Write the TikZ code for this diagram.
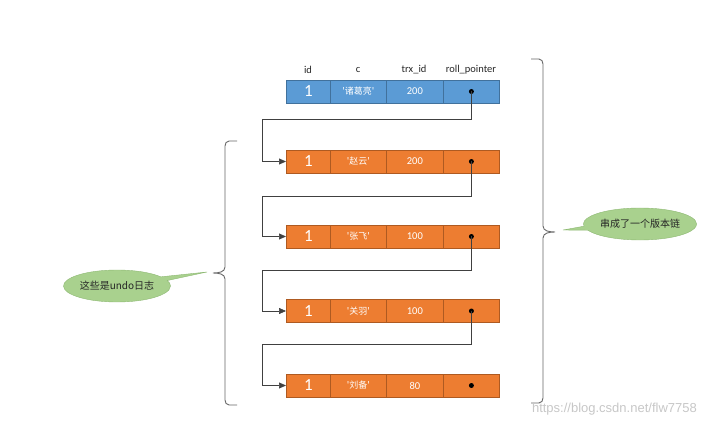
\documentclass[tikz,border=0pt]{standalone}
\usepackage{fontspec}
\setmainfont{Carlito}
\newfontfamily\cjk{Noto Sans CJK SC}
\newfontfamily\wmfont{Liberation Sans}
\usetikzlibrary{arrows.meta,shapes.callouts}
\definecolor{bluefill}{HTML}{5B9BD5}
\definecolor{blueline}{HTML}{41719C}
\definecolor{orfill}{HTML}{ED7D31}
\definecolor{orline}{HTML}{AE5A21}
\definecolor{bubfill}{HTML}{A9D18E}
\definecolor{bubline}{HTML}{8DB873}
\definecolor{conn}{HTML}{404040}
\definecolor{brc}{HTML}{666666}
\tikzset{
  cell/.style={draw=#1line, fill=#1fill, line width=0.8pt, minimum height=23pt, inner sep=0pt, text=white, anchor=west},
  ida/.style={minimum width=44pt, font=\fontsize{17}{17}\selectfont},
  cb/.style={minimum width=56pt, font=\cjk\fontsize{9}{10}\selectfont},
  cc/.style={minimum width=57pt, font=\fontsize{10.5}{11}\selectfont},
  cd/.style={minimum width=56pt},
  hdr/.style={font=\fontsize{10.5}{11}\selectfont, text=black!85},
  link/.style={draw=conn, line width=0.7pt, -{Triangle[length=7pt,width=6pt]}},
  dotm/.style={circle, fill=black, inner sep=0pt, minimum size=5pt},
  bubble/.style={ellipse callout, draw=bubline, fill=bubfill, line width=0.4pt, minimum width=#1, minimum height=32pt, inner sep=0pt, font=\cjk\fontsize{10}{11}\selectfont, text=black!85},
  brace/.style={draw=brc, line width=0.9pt},
}
\begin{document}
\begin{tikzpicture}[x=1pt,y=-1pt]
\useasboundingbox (0,0) rectangle (706,427);
% headers
\node[hdr] (h1) at (308,70) {id};
\node[hdr] (h2) at (358,70) {c};
\node[hdr] (h3) at (414,70) {trx\_id};
\node[hdr] (h4) at (471,70) {roll\_pointer};
% rows
\foreach \r/\y/\col/\name/\trx in {0/91.5/blue/诸葛亮/200, 1/161.5/or/赵云/200, 2/236.5/or/张飞/100, 3/311/or/关羽/100, 4/385.5/or/刘备/80} {
  \node[cell=\col, ida] (r\r a) at (286,\y) {1};
  \node[cell=\col, cb] (r\r b) at (330,\y) {'\name'};
  \node[cell=\col, cc] (r\r c) at (386,\y) {\trx};
  \node[cell=\col, cd] (r\r d) at (443,\y) {};
  \node[dotm] (p\r) at (r\r d.center) {};
}
% connectors
\coordinate (k0) at (262,119);
\coordinate (k1) at (262,196);
\coordinate (k2) at (262,270);
\coordinate (k3) at (262,344);
\draw[link] (p0.center) |- (k0) |- (r1a.west);
\draw[link] (p1.center) |- (k1) |- (r2a.west);
\draw[link] (p2.center) |- (k2) |- (r3a.west);
\draw[link] (p3.center) |- (k3) |- (r4a.west);
% left brace
\coordinate (lb) at (213,273);
\draw[brace] (237,141) -- (229,141) to[out=180,in=90] (225,146) -- (225,267) to[out=-90,in=0] (lb) to[out=0,in=90] (225,279) -- (225,400) to[out=-90,in=180] (229,405) -- (237,405);
% right brace
\coordinate (rb) at (555,232);
\draw[brace] (531,59) -- (539,59) to[out=0,in=90] (543,64) -- (543,226) to[out=-90,in=180] (rb) to[out=180,in=90] (543,238) -- (543,398) to[out=-90,in=0] (539,403) -- (531,403);
% bubbles
\node[bubble=107pt, callout absolute pointer={(207,272)}] (bl) at (117,286) {这些是undo日志};
\node[bubble=110pt, callout absolute pointer={(563,230)}] (br) at (640,224) {串成了一个版本链};
% watermark
\node[font=\wmfont\fontsize{13}{14}\selectfont, text=black!22, anchor=east, inner sep=0pt] (wm) at (697,409) {https://blog.csdn.net/flw7758};
\end{tikzpicture}
\end{document}
